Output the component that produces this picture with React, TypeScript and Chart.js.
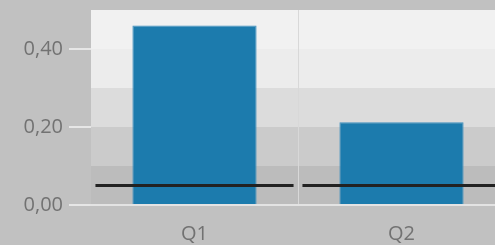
import React, { useEffect, useRef } from "react";
import { Chart, registerables } from "chart.js";

Chart.register(...registerables);

const categories = ["Q1", "Q2"];
const barValues = [0.46, 0.212];
const targetValues = [0.05, 0.05];
const yTickValues = [0, 0.2, 0.4];
const yMin = 0;
const yMax = 0.5;
const bandEdges = [0, 0.1, 0.2, 0.3, 0.4, 0.5];
const bandColors = ["#bcbcbc", "#cbcbcb", "#dcdcdc", "#ececec", "#f1f1f1"];

const TARGET_HALF = 0.0036;
const BG = "#c1c1c1";
const FONT = { family: "'Open Sans', sans-serif", size: 20 };
const LABEL_COLOR = "#727272";

const bandsPlugin = {
  id: "bands",
  beforeDraw(chart: any) {
    const { ctx, chartArea, scales } = chart;
    ctx.save();
    ctx.fillStyle = BG;
    ctx.fillRect(0, 0, chart.width, chart.height);
    const y = scales.y;
    for (let i = 0; i < bandColors.length; i++) {
      const top = y.getPixelForValue(bandEdges[i + 1]);
      const bottom = y.getPixelForValue(bandEdges[i]);
      ctx.fillStyle = bandColors[i];
      ctx.fillRect(chartArea.left, top, chartArea.right - chartArea.left, bottom - top);
    }
    ctx.restore();
  },
};

export default function App() {
  const ref = useRef<HTMLCanvasElement>(null);
  useEffect(() => {
    if (!ref.current) return;
    const chart = new Chart(ref.current, {
      type: "bar",
      data: {
        labels: categories,
        datasets: [
          {
            label: "Target",
            data: targetValues.map((t) => [t - TARGET_HALF, t + TARGET_HALF]) as any,
            backgroundColor: "#222222",
            borderWidth: 0,
            categoryPercentage: 1,
            barPercentage: 0.957,
            grouped: false,
            order: 0,
          } as any,
          {
            label: "Value",
            data: barValues,
            backgroundColor: "#1c7bad",
            borderColor: "#3f90bf",
            borderWidth: 1,
            categoryPercentage: 1,
            barPercentage: 0.6,
            grouped: false,
            order: 1,
          } as any,
        ],
      },
      options: {
        responsive: false,
        animation: false,
        layout: { padding: { top: 10, left: 0, right: 0, bottom: 0 } },
        plugins: { legend: { display: false }, tooltip: { enabled: false } },
        scales: {
          x: {
            grid: {
              offset: true,
              drawTicks: false,
              lineWidth: 1,
              color: (c: any) => (c.index === 0 ? "rgba(0,0,0,0)" : "#d8d8d8"),
            },
            border: { display: true, color: "#e3e3e3", width: 2 },
            ticks: { font: FONT, color: LABEL_COLOR, padding: 17 },
            afterFit: (s: any) => {
              s.height = 40;
              s.paddingLeft = 0;
              s.paddingRight = 0;
            },
          },
          y: {
            min: yMin,
            max: yMax,
            afterBuildTicks: (s: any) => {
              s.ticks = yTickValues.map((v) => ({ value: v }));
            },
            grid: {
              drawOnChartArea: false,
              drawTicks: true,
              tickLength: 22,
              lineWidth: 2,
              color: "#e6e6e6",
            },
            border: { display: false },
            ticks: {
              font: FONT,
              color: LABEL_COLOR,
              padding: 6,
              callback: (v: any) => Number(v).toFixed(2).replace(".", ","),
            },
            afterFit: (s: any) => {
              s.width = 91;
              s.paddingTop = 0;
              s.paddingBottom = 0;
            },
          },
        },
      },
      plugins: [bandsPlugin],
    });
    return () => chart.destroy();
  }, []);

  return (
    <div
      style={{
        position: "fixed",
        left: 0,
        top: 0,
        width: 495,
        height: 245,
        overflow: "hidden",
        background: BG,
      }}
    >
      <canvas ref={ref} width={505} height={245} style={{ display: "block" }} />
    </div>
  );
}
